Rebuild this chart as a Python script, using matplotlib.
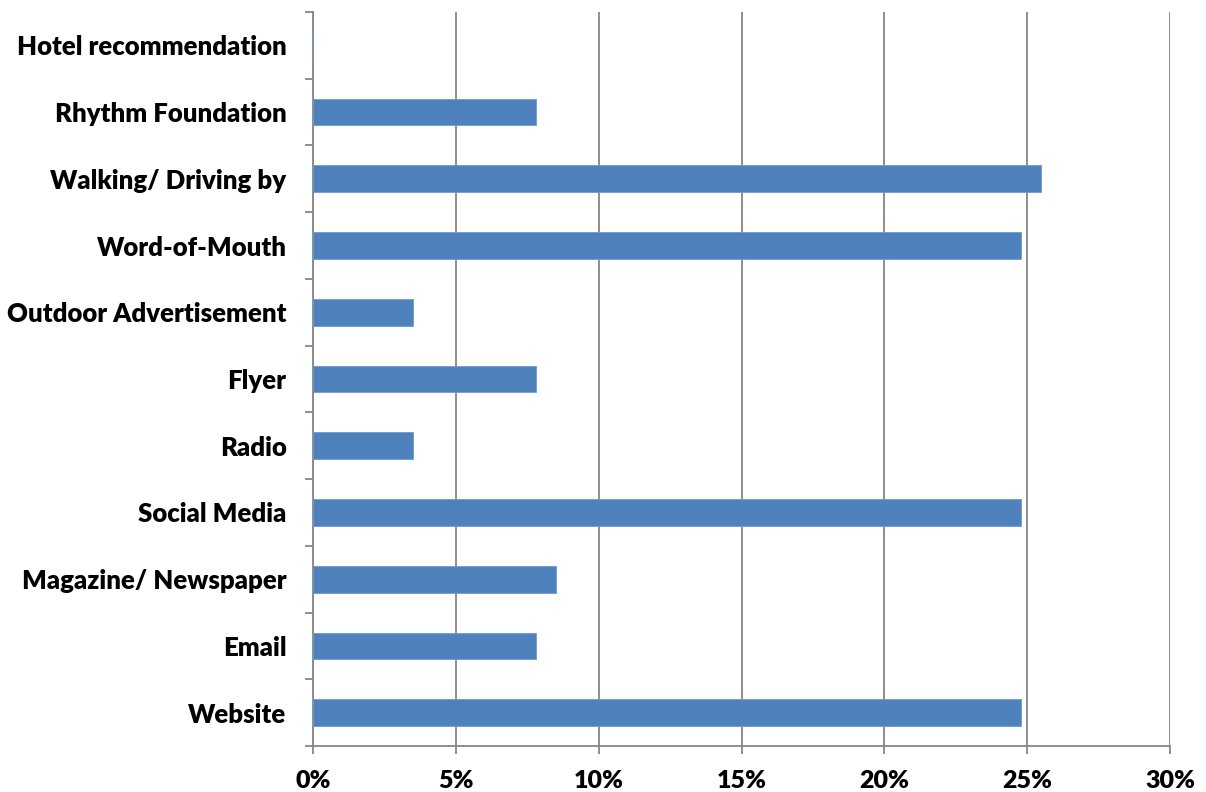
import matplotlib
matplotlib.use("Agg")
import matplotlib.pyplot as plt
from matplotlib.ticker import FuncFormatter, FixedLocator, NullFormatter
import numpy as np

# Survey answers, bottom to top as they appear on the chart
categories = ["Website", "Email", "Magazine/ Newspaper", "Social Media", "Radio",
              "Flyer", "Outdoor Advertisement", "Word-of-Mouth",
              "Walking/ Driving by", "Rhythm Foundation", "Hotel recommendation"]
shares = [24.8, 7.8, 8.5, 24.8, 3.5, 7.8, 3.5, 24.8, 25.5, 7.8, 0.0]
x_ticks = [0, 5, 10, 15, 20, 25, 30]

plt.rcParams['font.family'] = ['Lato', 'DejaVu Sans']
plt.rcParams['font.weight'] = 'heavy'

fig = plt.figure(figsize=(12.06, 7.92), dpi=100)
ax = fig.add_axes([313 / 1206, 1 - 746 / 792, (1170 - 313) / 1206, (746 - 12) / 792])

grid_col = '#868686'
y = np.arange(len(categories))
ax.barh(y, shares, height=0.4, color='#4F81BD', edgecolor='#6F9AD0', linewidth=0.6, zorder=3)

ax.set_xlim(0, 30)
ax.set_ylim(-0.5, len(categories) - 0.5)
ax.set_xticks(x_ticks)
ax.xaxis.set_major_formatter(FuncFormatter(lambda v, p: f"{v:.0f}%"))
ax.grid(axis='x', color=grid_col, linewidth=1.3, zorder=0)

# category labels centred on bars, ticks on category boundaries
ax.yaxis.set_major_locator(FixedLocator(np.arange(-0.5, len(categories), 1.0)))
ax.yaxis.set_major_formatter(NullFormatter())
ax.yaxis.set_minor_locator(FixedLocator(y))
ax.set_yticklabels(categories, minor=True)
ax.tick_params(axis='y', which='minor', length=0, pad=19, labelsize=18.5)
ax.tick_params(axis='y', which='major', length=6, width=1.3, color=grid_col, direction='out')
ax.tick_params(axis='x', length=6, width=1.3, color=grid_col, direction='out', pad=11, labelsize=18)

for side in ['top', 'right']:
    ax.spines[side].set_visible(False)
for side in ['left', 'bottom']:
    ax.spines[side].set_color(grid_col)
    ax.spines[side].set_linewidth(1.3)

fig.savefig("out.png", dpi=100)
